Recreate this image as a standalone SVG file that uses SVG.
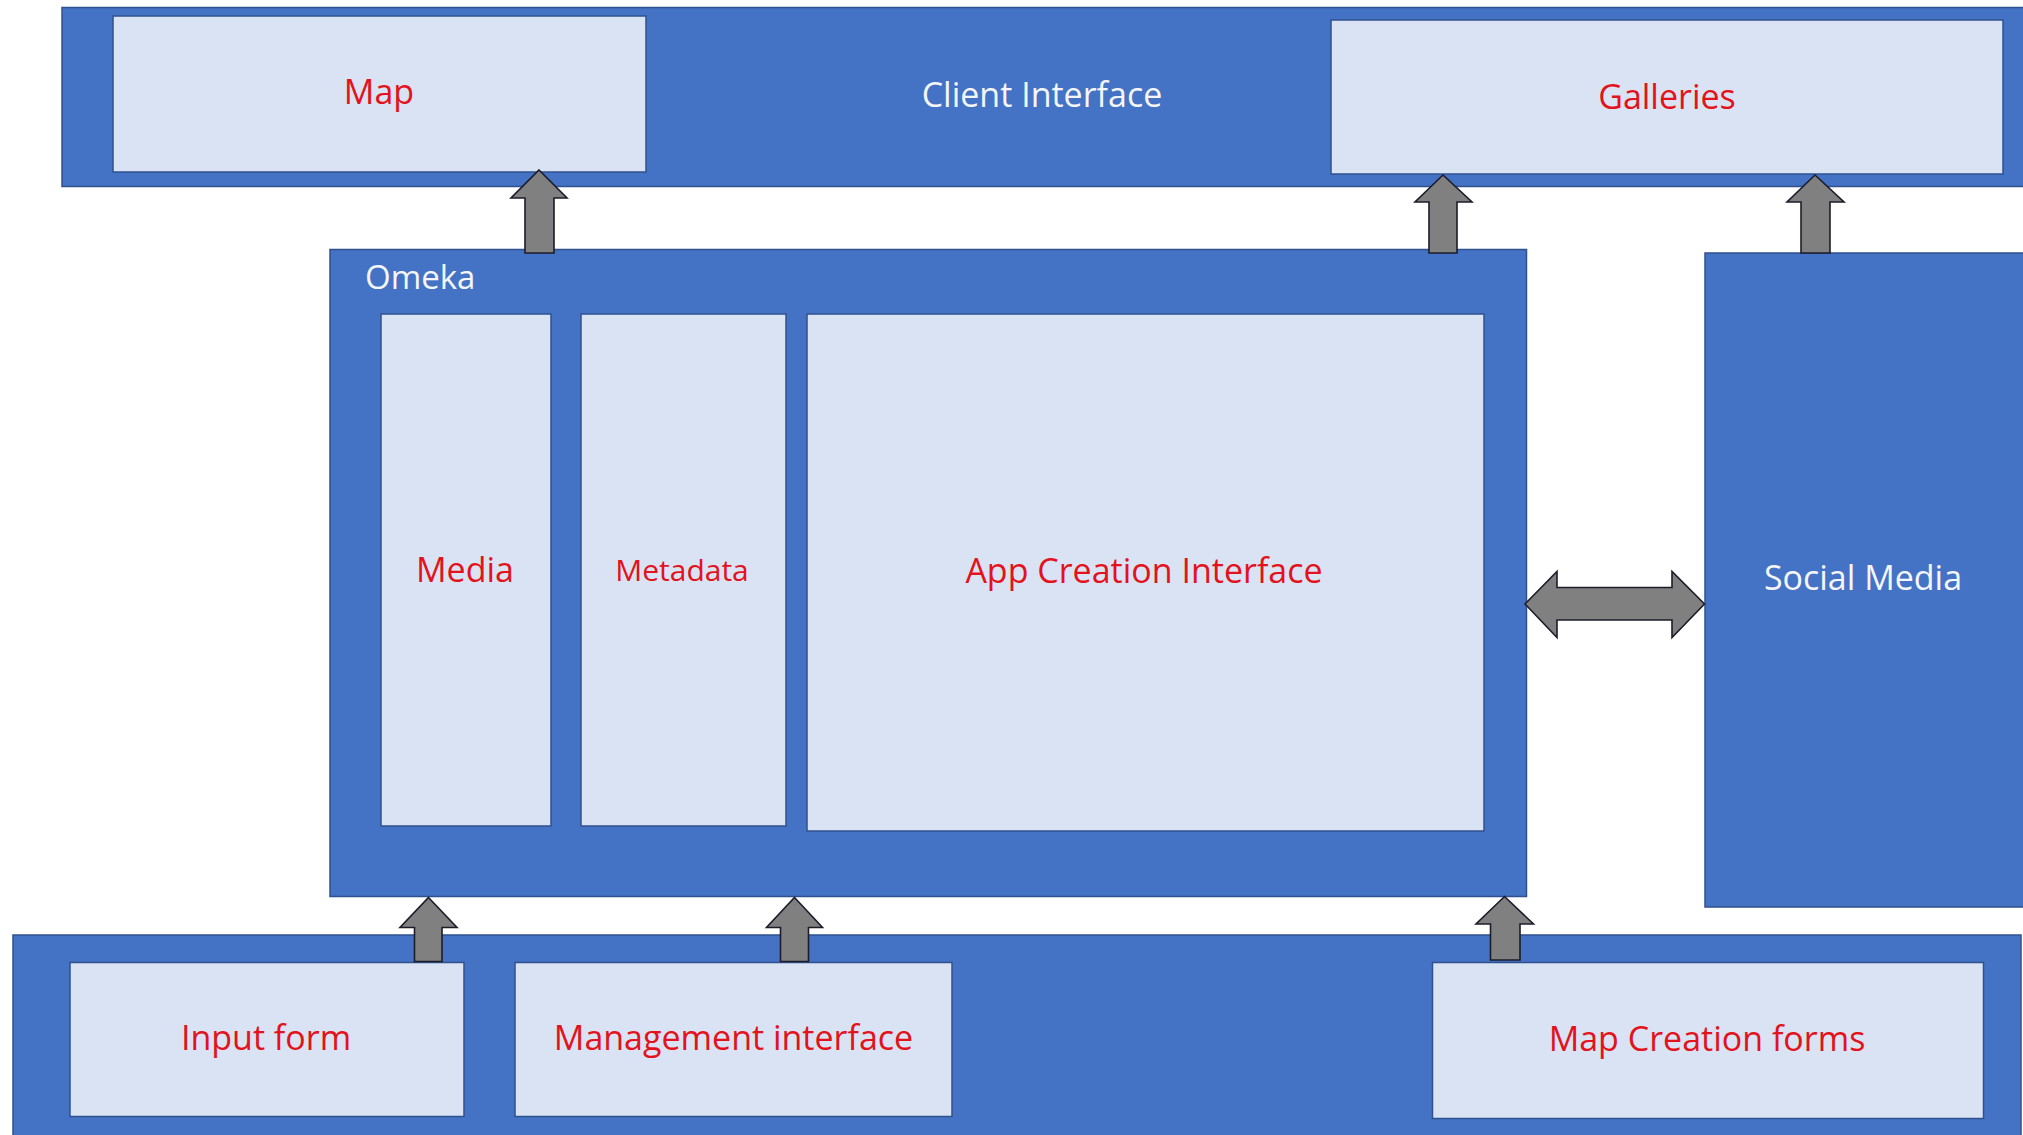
<svg xmlns="http://www.w3.org/2000/svg" width="2023" height="1135" viewBox="0 0 2023 1135">
<style>
.outer{fill:#4472C4;stroke:#2F528F;stroke-width:1.5}
.inner{fill:#DAE3F3;stroke:#2F528F;stroke-width:1.5}
.red{fill:#E3121B;font-family:"Open Sans","DejaVu Sans",sans-serif;font-size:34px;text-anchor:middle}
.white{fill:#F4F6FB;font-family:"Open Sans","DejaVu Sans",sans-serif;font-size:34px;text-anchor:middle}
.arrow{fill:#808080;stroke:#1C1C2A;stroke-width:1.6;stroke-linejoin:miter}
</style>
<rect width="2023" height="1135" fill="#FFFFFF"/>
<g id="client-interface">
<rect class="outer" x="62" y="7.5" width="1975" height="179"/>
<text class="white" x="1042" y="107">Client Interface</text>
</g>
<g id="map">
<rect class="inner" x="113" y="16" width="533" height="156"/>
<text class="red" x="379" y="104">Map</text>
</g>
<g id="galleries">
<rect class="inner" x="1331" y="20" width="672" height="154"/>
<text class="red" x="1667" y="109">Galleries</text>
</g>
<g id="omeka">
<rect class="outer" x="330" y="249.5" width="1196.5" height="647"/>
<text class="white" x="365" y="289" style="text-anchor:start;font-size:33px">Omeka</text>
</g>
<g id="media">
<rect class="inner" x="381" y="314" width="170" height="512"/>
<text class="red" x="465" y="582">Media</text>
</g>
<g id="metadata">
<rect class="inner" x="581" y="314" width="205" height="512"/>
<text class="red" x="682" y="581" style="font-size:30px">Metadata</text>
</g>
<g id="app-creation-interface">
<rect class="inner" x="807" y="314" width="677" height="517"/>
<text class="red" x="1144" y="583">App Creation Interface</text>
</g>
<g id="social-media">
<rect class="outer" x="1705" y="253" width="330" height="654"/>
<text class="white" x="1863" y="590">Social Media</text>
</g>
<g id="bottom-bar">
<rect class="outer" x="13" y="935" width="2008" height="210"/>
</g>
<g id="input-form">
<rect class="inner" x="70" y="962.5" width="394" height="154"/>
<text class="red" x="266" y="1050">Input form</text>
</g>
<g id="management-interface">
<rect class="inner" x="515" y="962.5" width="437" height="154"/>
<text class="red" x="733.5" y="1050">Management interface</text>
</g>
<g id="map-creation-forms">
<rect class="inner" x="1432.5" y="962.5" width="551" height="156"/>
<text class="red" x="1707" y="1051">Map Creation forms</text>
</g>
<g id="connectors">
<polygon class="arrow" points="539,170 567,198 554,198 554,253 525,253 525,198 511,198"/>
<polygon class="arrow" points="1443,175 1472,202 1457,202 1457,253 1429,253 1429,202 1415,202"/>
<polygon class="arrow" points="1815,175 1844,202 1830,202 1830,253 1801,253 1801,202 1787,202"/>
<polygon class="arrow" points="428.5,897.5 457,927.5 442,927.5 442,961.5 414.5,961.5 414.5,927.5 400,927.5"/>
<polygon class="arrow" points="794.5,897.5 822.5,927.5 808.5,927.5 808.5,961.5 780.5,961.5 780.5,927.5 766.5,927.5"/>
<polygon class="arrow" points="1504.5,896.5 1533.5,924 1520,924 1520,960 1490.5,960 1490.5,924 1476,924"/>
<polygon class="arrow" points="1525,604 1557,571.5 1557,587.5 1672,587.5 1672,571.5 1704.5,604 1672,637.5 1672,620 1557,620 1557,637.5"/>
</g>
</svg>
